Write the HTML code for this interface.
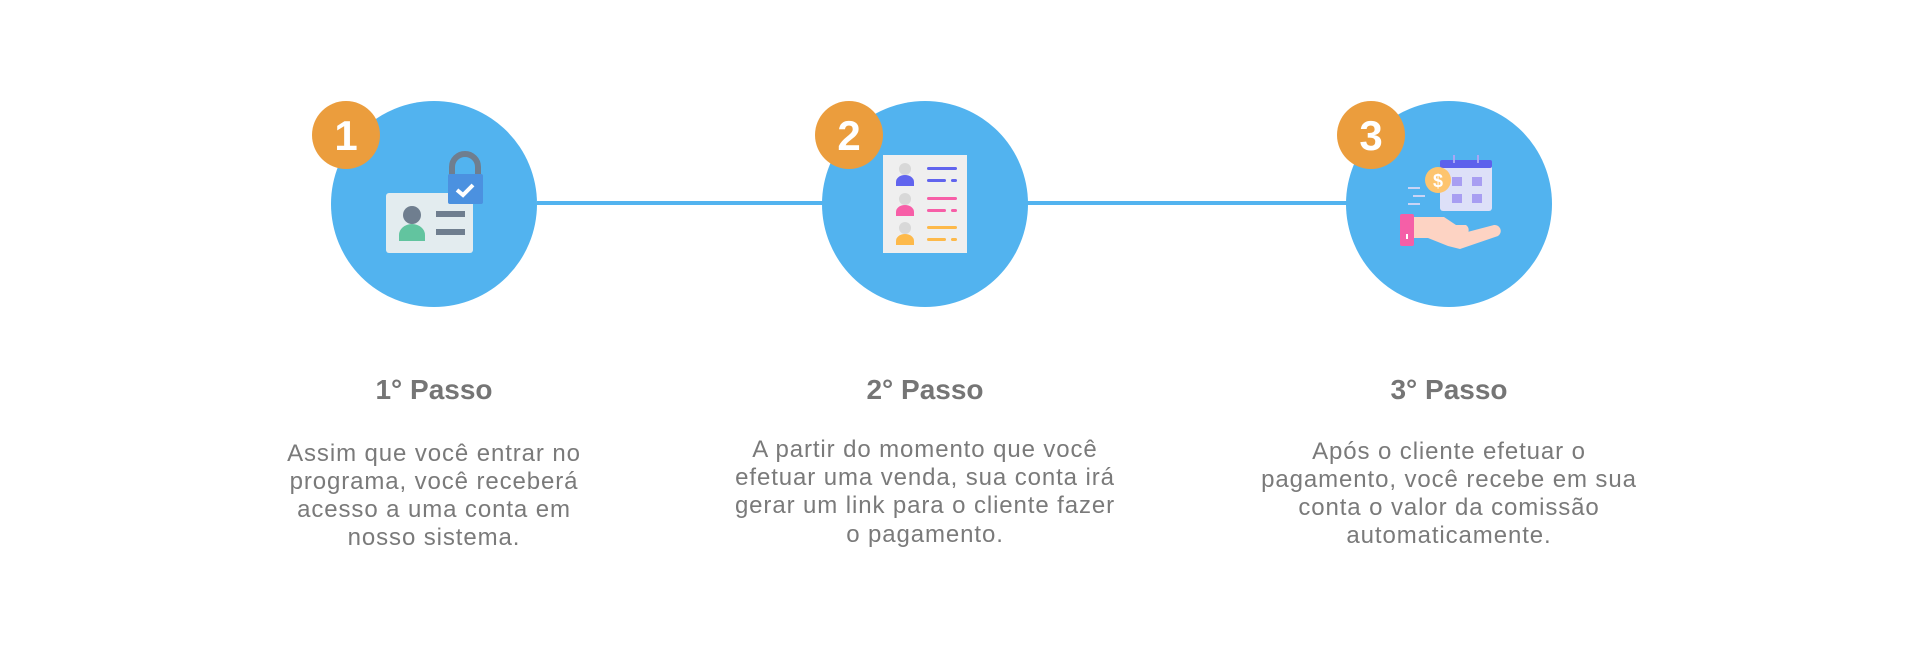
<!DOCTYPE html>
<html><head><meta charset="utf-8"><style>
html,body{margin:0;padding:0;background:#fff;width:1920px;height:649px;overflow:hidden}
</style></head><body>
<svg width="1920" height="649" viewBox="0 0 1920 649" xmlns="http://www.w3.org/2000/svg" font-family="Liberation Sans, sans-serif">
<rect x="537" y="201" width="810" height="4" fill="#52b3ef"/>
<circle cx="434" cy="204" r="103" fill="#52b3ef"/>
<circle cx="925" cy="204" r="103" fill="#52b3ef"/>
<circle cx="1449" cy="204" r="103" fill="#52b3ef"/>
<!-- icon 1 -->
<rect x="386" y="193" width="87" height="60" rx="3" fill="#e3ecef"/>
<circle cx="412" cy="215" r="9" fill="#6f7e8f"/>
<path d="M399 241 v-6 a13 11 0 0 1 26 0 v6 z" fill="#62c49f"/>
<rect x="436" y="211" width="29" height="6" fill="#6f7e8f"/>
<rect x="436" y="229" width="29" height="6" fill="#6f7e8f"/>
<path d="M452 175 v-8 a13 13 0 0 1 26 0 v8" fill="none" stroke="#6f7e8f" stroke-width="6"/>
<rect x="448" y="174" width="35" height="30" rx="2" fill="#4b91e0"/>
<path d="M457 190 l6 5 l10 -10" fill="none" stroke="#fff" stroke-width="4"/>
<!-- icon 2 -->
<rect x="883" y="155" width="84" height="98" fill="#efefef"/>
<g>
<circle cx="905" cy="169" r="6" fill="#d8d8d8"/><path d="M896 186 v-4 a9 7 0 0 1 18 0 v4z" fill="#6164ee"/>
<rect x="927" y="167" width="30" height="3" rx="1.5" fill="#6164ee"/><rect x="927" y="179" width="19" height="3" rx="1.5" fill="#6164ee"/><rect x="951" y="179" width="6" height="3" rx="1.5" fill="#6164ee"/>
<circle cx="905" cy="199" r="6" fill="#d8d8d8"/><path d="M896 216 v-4 a9 7 0 0 1 18 0 v4z" fill="#f75ea7"/>
<rect x="927" y="197" width="30" height="3" rx="1.5" fill="#f75ea7"/><rect x="927" y="209" width="19" height="3" rx="1.5" fill="#f75ea7"/><rect x="951" y="209" width="6" height="3" rx="1.5" fill="#f75ea7"/>
<circle cx="905" cy="228" r="6" fill="#d8d8d8"/><path d="M896 245 v-4 a9 7 0 0 1 18 0 v4z" fill="#fdb94a"/>
<rect x="927" y="226" width="30" height="3" rx="1.5" fill="#fdb94a"/><rect x="927" y="238" width="19" height="3" rx="1.5" fill="#fdb94a"/><rect x="951" y="238" width="6" height="3" rx="1.5" fill="#fdb94a"/>
</g>
<!-- icon 3 -->
<rect x="1440" y="160" width="52" height="51" rx="3" fill="#dde0f8"/>
<rect x="1440" y="160" width="52" height="8" rx="2" fill="#5d61ec"/>
<rect x="1453" y="155" width="2" height="8" fill="#a9a6f5"/><rect x="1477" y="155" width="2" height="8" fill="#a9a6f5"/>
<rect x="1452" y="177" width="10" height="9" fill="#a89ef2"/><rect x="1472" y="177" width="10" height="9" fill="#a89ef2"/>
<rect x="1452" y="194" width="10" height="9" fill="#a89ef2"/><rect x="1472" y="194" width="10" height="9" fill="#a89ef2"/>
<circle cx="1438" cy="180" r="13" fill="#fdc46e"/>
<text x="1438" y="187" font-size="18" fill="#fff" text-anchor="middle" font-weight="bold">$</text>
<rect x="1408" y="187" width="12" height="2" fill="#c9d4f5"/><rect x="1413" y="195" width="12" height="2" fill="#c9d4f5"/><rect x="1408" y="203" width="12" height="2" fill="#c9d4f5"/>
<path d="M1414 217 h30 l12 8 h10 a6 6 0 0 1 0 10 h-10 l38 -10 a6 6 0 0 1 4 11 l-38 13 l-12 -3 l-20 -8 h-14 z" fill="#fdd3c3"/>
<rect x="1400" y="214" width="14" height="32" rx="2" fill="#f55fa7"/>
<rect x="1406" y="234" width="2" height="5" fill="#fff"/>
<!-- badges -->
<g font-weight="bold" font-size="42" fill="#fff" text-anchor="middle">
<circle cx="346" cy="135" r="34" fill="#eb9d3d"/><text x="346" y="150">1</text>
<circle cx="849" cy="135" r="34" fill="#eb9d3d"/><text x="849" y="150">2</text>
<circle cx="1371" cy="135" r="34" fill="#eb9d3d"/><text x="1371" y="150">3</text>
</g>
<g font-weight="bold" font-size="28" fill="#757575" text-anchor="middle">
<text x="434" y="399">1° Passo</text>
<text x="925" y="399">2° Passo</text>
<text x="1449" y="399">3° Passo</text>
</g>
<g font-size="24" fill="#7a7a7a" text-anchor="middle" letter-spacing="0.9">
<text x="434" y="461">Assim que você entrar no</text>
<text x="434" y="489">programa, você receberá</text>
<text x="434" y="517">acesso a uma conta em</text>
<text x="434" y="545">nosso sistema.</text>
<text x="925" y="457">A partir do momento que você</text>
<text x="925" y="485">efetuar uma venda, sua conta irá</text>
<text x="925" y="513">gerar um link para o cliente fazer</text>
<text x="925" y="542">o pagamento.</text>
<text x="1449" y="459">Após o cliente efetuar o</text>
<text x="1449" y="487">pagamento, você recebe em sua</text>
<text x="1449" y="515">conta o valor da comissão</text>
<text x="1449" y="543">automaticamente.</text>
</g>
</svg>
</body></html>
